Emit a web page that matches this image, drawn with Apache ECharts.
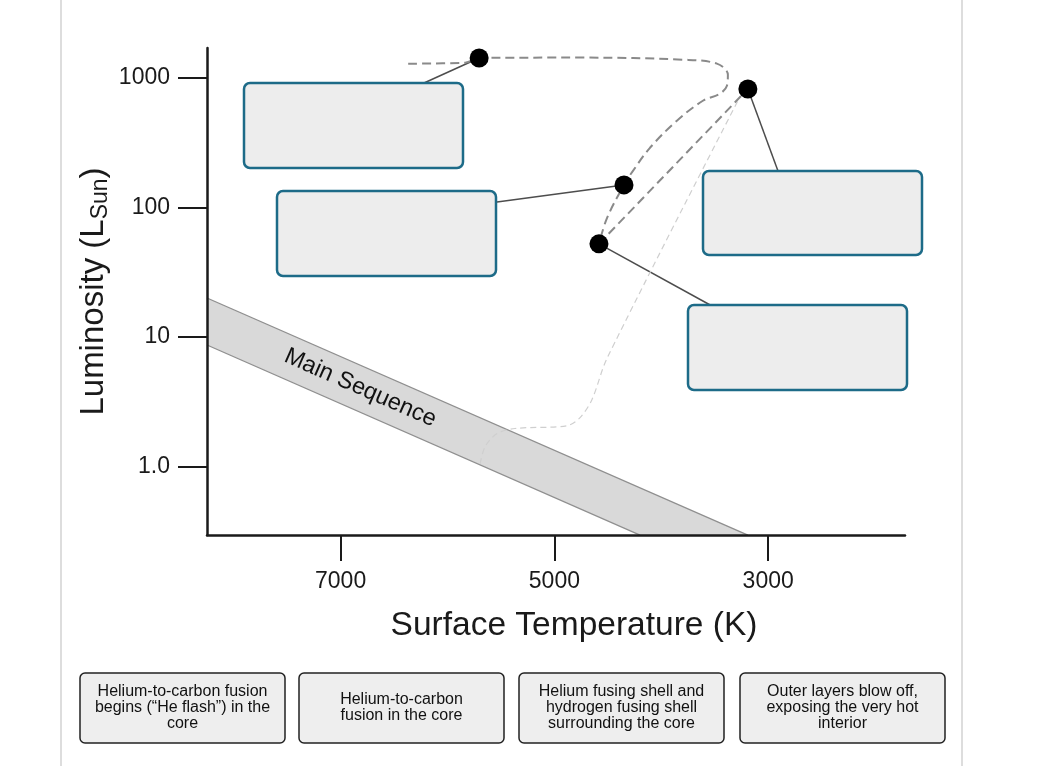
<!DOCTYPE html>
<html><head><meta charset="utf-8">
<script src="https://cdn.jsdelivr.net/npm/echarts@6.0.0/dist/echarts.min.js"></script>
<style>html,body{margin:0;padding:0;background:#fff;} #c{width:1045px;height:766px;}</style>
</head><body><div id="c"></div>
<script>
// ---- axis ticks ----
const xTicks = [7000, 5000, 3000];
const yTickValues = [1, 10, 100, 1000];
const yTickLabels = ['1.0', '10', '100', '1000'];

// ---- main sequence band (temperature K, luminosity L_sun) ----
const msUpperTemp = [8250, 3190];
const msUpperLum = [20.0, 0.297];
const msLowerTemp = [8250, 4199];
const msLowerLum = [8.68, 0.297];
const msLabelTemp = 6816;
const msLabelLum = 4.05;

// ---- evolutionary track (dark dashed) ----
const trackATemp = [6368, 5835, 5704, 4732, 3797, 3480, 3377, 3386, 3452, 3611, 3854, 4106, 4265, 4349, 4508, 4583];
const trackALum  = [1283, 1306, 1419, 1429, 1377, 1283, 1055, 867, 752, 664, 466, 288, 191, 149, 82.6, 52.3];
const trackBTemp = [4583, 3190];
const trackBLum  = [52.3, 819];

// ---- faint earlier track (light dashed) ----
const faintTemp = [5695, 5648, 5536, 5368, 4882, 4760, 4648, 4508, 3265];
const faintLum  = [1.05, 1.43, 1.80, 1.97, 2.07, 2.39, 3.30, 6.84, 710];

// ---- marked stages ----
const stageTemp = [5704, 4349, 3190, 4583];
const stageLum  = [1419, 149, 819, 52.3];

// ---- answer choices ----
const choices = [
  'Helium-to-carbon fusion\nbegins (\u201cHe flash\u201d) in the\ncore',
  'Helium-to-carbon\nfusion in the core',
  'Helium fusing shell and\nhydrogen fusing shell\nsurrounding the core',
  'Outer layers blow off,\nexposing the very hot\ninterior'
];

const FONT = '"Liberation Sans", Arial, sans-serif';
const lg = v => Math.log10(v);
const pairs = (t, l) => t.map((v, i) => [v, lg(l[i])]);

const chart = echarts.init(document.getElementById('c'));

const bandUpper = pairs(msUpperTemp, msUpperLum);
const bandLower = pairs(msLowerTemp, msLowerLum);

const option = {
  animation: false,
  backgroundColor: '#fff',
  grid: { left: 207, right: 140, top: 48, bottom: 231, containLabel: false },
  xAxis: {
    type: 'value', inverse: true, min: 1720, max: 8250, z: 10,
    splitLine: { show: false },
    axisLine: { show: true, onZero: false, lineStyle: { color: '#1a1a1a', width: 2.5 } },
    axisTick: { show: true, length: 26, lineStyle: { color: '#1a1a1a', width: 2 }, customValues: xTicks },
    axisLabel: { margin: 35, fontSize: 23, color: '#1a1a1a', fontFamily: FONT, customValues: xTicks,
      formatter: v => String(Math.round(v)) },
    name: 'Surface Temperature (K)', nameLocation: 'middle', nameGap: 74,
    nameTextStyle: { fontSize: 33.5, color: '#1a1a1a', fontFamily: FONT, padding: [0, 0, 0, 36] }
  },
  yAxis: {
    type: 'value', min: -0.527, max: 3.229, z: 10,
    splitLine: { show: false },
    axisLine: { show: true, onZero: false, lineStyle: { color: '#1a1a1a', width: 2.5 } },
    axisTick: { show: true, length: 29, lineStyle: { color: '#1a1a1a', width: 2 }, customValues: yTickValues.map(lg) },
    axisLabel: {
      margin: 37, fontSize: 23, color: '#1a1a1a', fontFamily: FONT,
      customValues: yTickValues.map(lg),
      formatter: v => { const i = yTickValues.findIndex(t => Math.abs(lg(t) - v) < 1e-6); return i >= 0 ? yTickLabels[i] : ''; }
    },
    name: 'Luminosity (L{sub|Sun})', nameLocation: 'middle', nameGap: 95, nameRotate: 90,
    nameMoveOverlap: false,
    nameTextStyle: {
      fontSize: 33, color: '#1a1a1a', fontFamily: FONT,
      rich: { sub: { fontSize: 23, fontFamily: FONT, color: '#1a1a1a', padding: [14, 0, 0, 0] } }
    }
  },
  series: [
    {
      type: 'custom', z: 1, silent: true,
      data: [0],
      renderItem: (params, api) => {
        const up = bandUpper.map(p => api.coord(p));
        const lo = bandLower.map(p => api.coord(p));
        const poly = up.concat(lo.slice().reverse());
        const c = api.coord([msLabelTemp, lg(msLabelLum)]);
        const ang = Math.atan2(up[1][1] - up[0][1], up[1][0] - up[0][0]);
        return { type: 'group', children: [
          { type: 'polygon', shape: { points: poly }, style: { fill: '#d9d9d9' } },
          { type: 'polyline', shape: { points: up }, style: { stroke: '#8f8f8f', lineWidth: 1.3, fill: null } },
          { type: 'polyline', shape: { points: lo }, style: { stroke: '#8f8f8f', lineWidth: 1.3, fill: null } },
          { type: 'text', x: c[0], y: c[1], rotation: -ang,
            style: { text: 'Main Sequence', font: '23.5px ' + FONT, fill: '#111', align: 'center', verticalAlign: 'middle' } }
        ]};
      }
    },
    {
      type: 'line', z: 2, silent: true, showSymbol: false, smooth: 0.3,
      data: pairs(faintTemp, faintLum),
      lineStyle: { color: '#cfcfcf', width: 1.2, type: [6, 4] }
    },
    {
      type: 'line', z: 3, silent: true, showSymbol: false, smooth: 0.35,
      data: pairs(trackATemp, trackALum),
      lineStyle: { color: '#8a8a8a', width: 2, type: [9, 5] }
    },
    {
      type: 'line', z: 3, silent: true, showSymbol: false,
      data: pairs(trackBTemp, trackBLum),
      lineStyle: { color: '#8a8a8a', width: 2, type: [9, 5] }
    },
    {
      type: 'scatter', z: 5, silent: true, symbolSize: 19,
      data: pairs(stageTemp, stageLum),
      itemStyle: { color: '#000', opacity: 1 }
    }
  ]
};
chart.setOption(option);

// ---- annotation layout (pixels) ----
const answerBoxes = [
  { x: 244, y: 83, w: 219, h: 85, ax: 424, ay: 83 },
  { x: 277, y: 191, w: 219, h: 85, ax: 497, ay: 202 },
  { x: 703, y: 171, w: 219, h: 84, ax: 778, ay: 171 },
  { x: 688, y: 305, w: 219, h: 85, ax: 712, ay: 306 }
];
const choiceX = [80, 299, 519, 740];

const g = [];
g.push({ type: 'line', shape: { x1: 61, y1: 0, x2: 61, y2: 766 }, style: { stroke: '#d2d2d2', lineWidth: 1.5 } });
g.push({ type: 'line', shape: { x1: 962, y1: 0, x2: 962, y2: 766 }, style: { stroke: '#d2d2d2', lineWidth: 1.5 } });
answerBoxes.forEach((b, i) => {
  const p = chart.convertToPixel({ gridIndex: 0 }, [stageTemp[i], lg(stageLum[i])]);
  g.push({ type: 'line', z: 1, shape: { x1: b.ax, y1: b.ay, x2: p[0], y2: p[1] }, style: { stroke: '#4d4d4d', lineWidth: 1.5 } });
  g.push({ type: 'rect', z: 3, shape: { x: b.x, y: b.y, width: b.w, height: b.h, r: 6 }, style: { fill: '#ededed', stroke: '#1d6b88', lineWidth: 2.5 } });
});
choices.forEach((t, i) => {
  g.push({ type: 'rect', shape: { x: choiceX[i], y: 673, width: 205, height: 70, r: 5 }, style: { fill: '#eeeeee', stroke: '#222', lineWidth: 1.5 } });
  g.push({ type: 'text', x: choiceX[i] + 102.5, y: 708, style: { text: t, font: '16px ' + FONT, lineHeight: 16, fill: '#111', align: 'center', verticalAlign: 'middle' } });
});
chart.setOption({ graphic: g });
</script></body></html>
